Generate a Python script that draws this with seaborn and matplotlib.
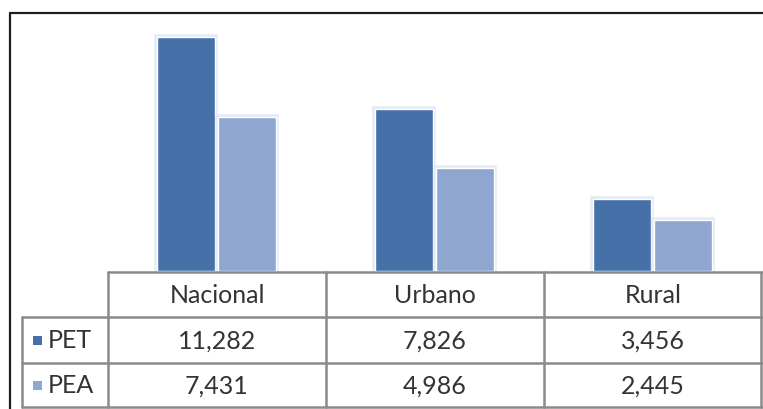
import matplotlib
matplotlib.use("Agg")
import matplotlib.pyplot as plt
from matplotlib.lines import Line2D
from matplotlib.patches import Rectangle
import matplotlib.patheffects as pe
import seaborn as sns
import pandas as pd

categories = ["Nacional", "Urbano", "Rural"]
series = ["PET", "PEA"]
pet = [11282, 7826, 3456]
pea = [7431, 4986, 2445]
colors = ["#4571A8", "#8FA6D0"]

sns.set_theme(style="white")
plt.rcParams["font.family"] = ["Lato", "DejaVu Sans"]

W, H = 763, 410
fig = plt.figure(figsize=(W / 100, H / 100), dpi=100)


def fx(x):
    return x / W


def fy(y):
    return 1 - y / H


ax = fig.add_axes([fx(108), fy(272), fx(761) - fx(108), fy(14) - fy(272)])
df = pd.DataFrame({
    "cat": categories * 2,
    "val": pet + pea,
    "serie": [series[0]] * 3 + [series[1]] * 3,
})
sns.barplot(data=df, x="cat", y="val", hue="serie", palette=colors,
            width=0.56, gap=0.05, legend=False, ax=ax, saturation=1)
for p in ax.patches:
    p.set_path_effects([pe.Stroke(linewidth=4, foreground="#e4ebf6"), pe.Normal()])
ax.set_xlim(-0.5, 2.5)
ax.set_ylim(0, 12450)
ax.axis("off")

# outer border (top and left)
border = "#1e1e1e"
fig.add_artist(Line2D([fx(10), fx(763)], [fy(14), fy(14)], color=border, lw=1.6))
fig.add_artist(Line2D([fx(10), fx(10)], [fy(14), fy(410)], color=border, lw=1.6))

# table grid
gc = "#8a8a8a"
lw = 1.8
fig.add_artist(Line2D([fx(108), fx(762)], [fy(273), fy(273)], color=gc, lw=lw))
for y in [318, 364, 408]:
    fig.add_artist(Line2D([fx(22), fx(762)], [fy(y), fy(y)], color=gc, lw=lw))
for x in [108, 326, 544, 761]:
    fig.add_artist(Line2D([fx(x), fx(x)], [fy(273), fy(408)], color=gc, lw=lw))
fig.add_artist(Line2D([fx(22), fx(22)], [fy(318), fy(408)], color=gc, lw=lw))

tc = "#333333"
fs = 18
col_centers = [217, 435, 653]
row_centers = [296, 341, 386]
for cx, cat in zip(col_centers, categories):
    fig.text(fx(cx), fy(row_centers[0]), cat, ha="center", va="center",
             fontsize=fs, color=tc)
for r, (name, vals, col) in enumerate(zip(series, [pet, pea], colors)):
    yc = row_centers[r + 1]
    fig.add_artist(Rectangle((fx(33), fy(yc + 5)), fx(9), 9 / H,
                             facecolor=col, edgecolor="none"))
    fig.text(fx(48), fy(yc), name, ha="left", va="center", fontsize=fs, color=tc)
    for cx, v in zip(col_centers, vals):
        fig.text(fx(cx), fy(yc), f"{v:,}", ha="center", va="center",
                 fontsize=fs, color=tc)

fig.savefig("out.png", dpi=100)
